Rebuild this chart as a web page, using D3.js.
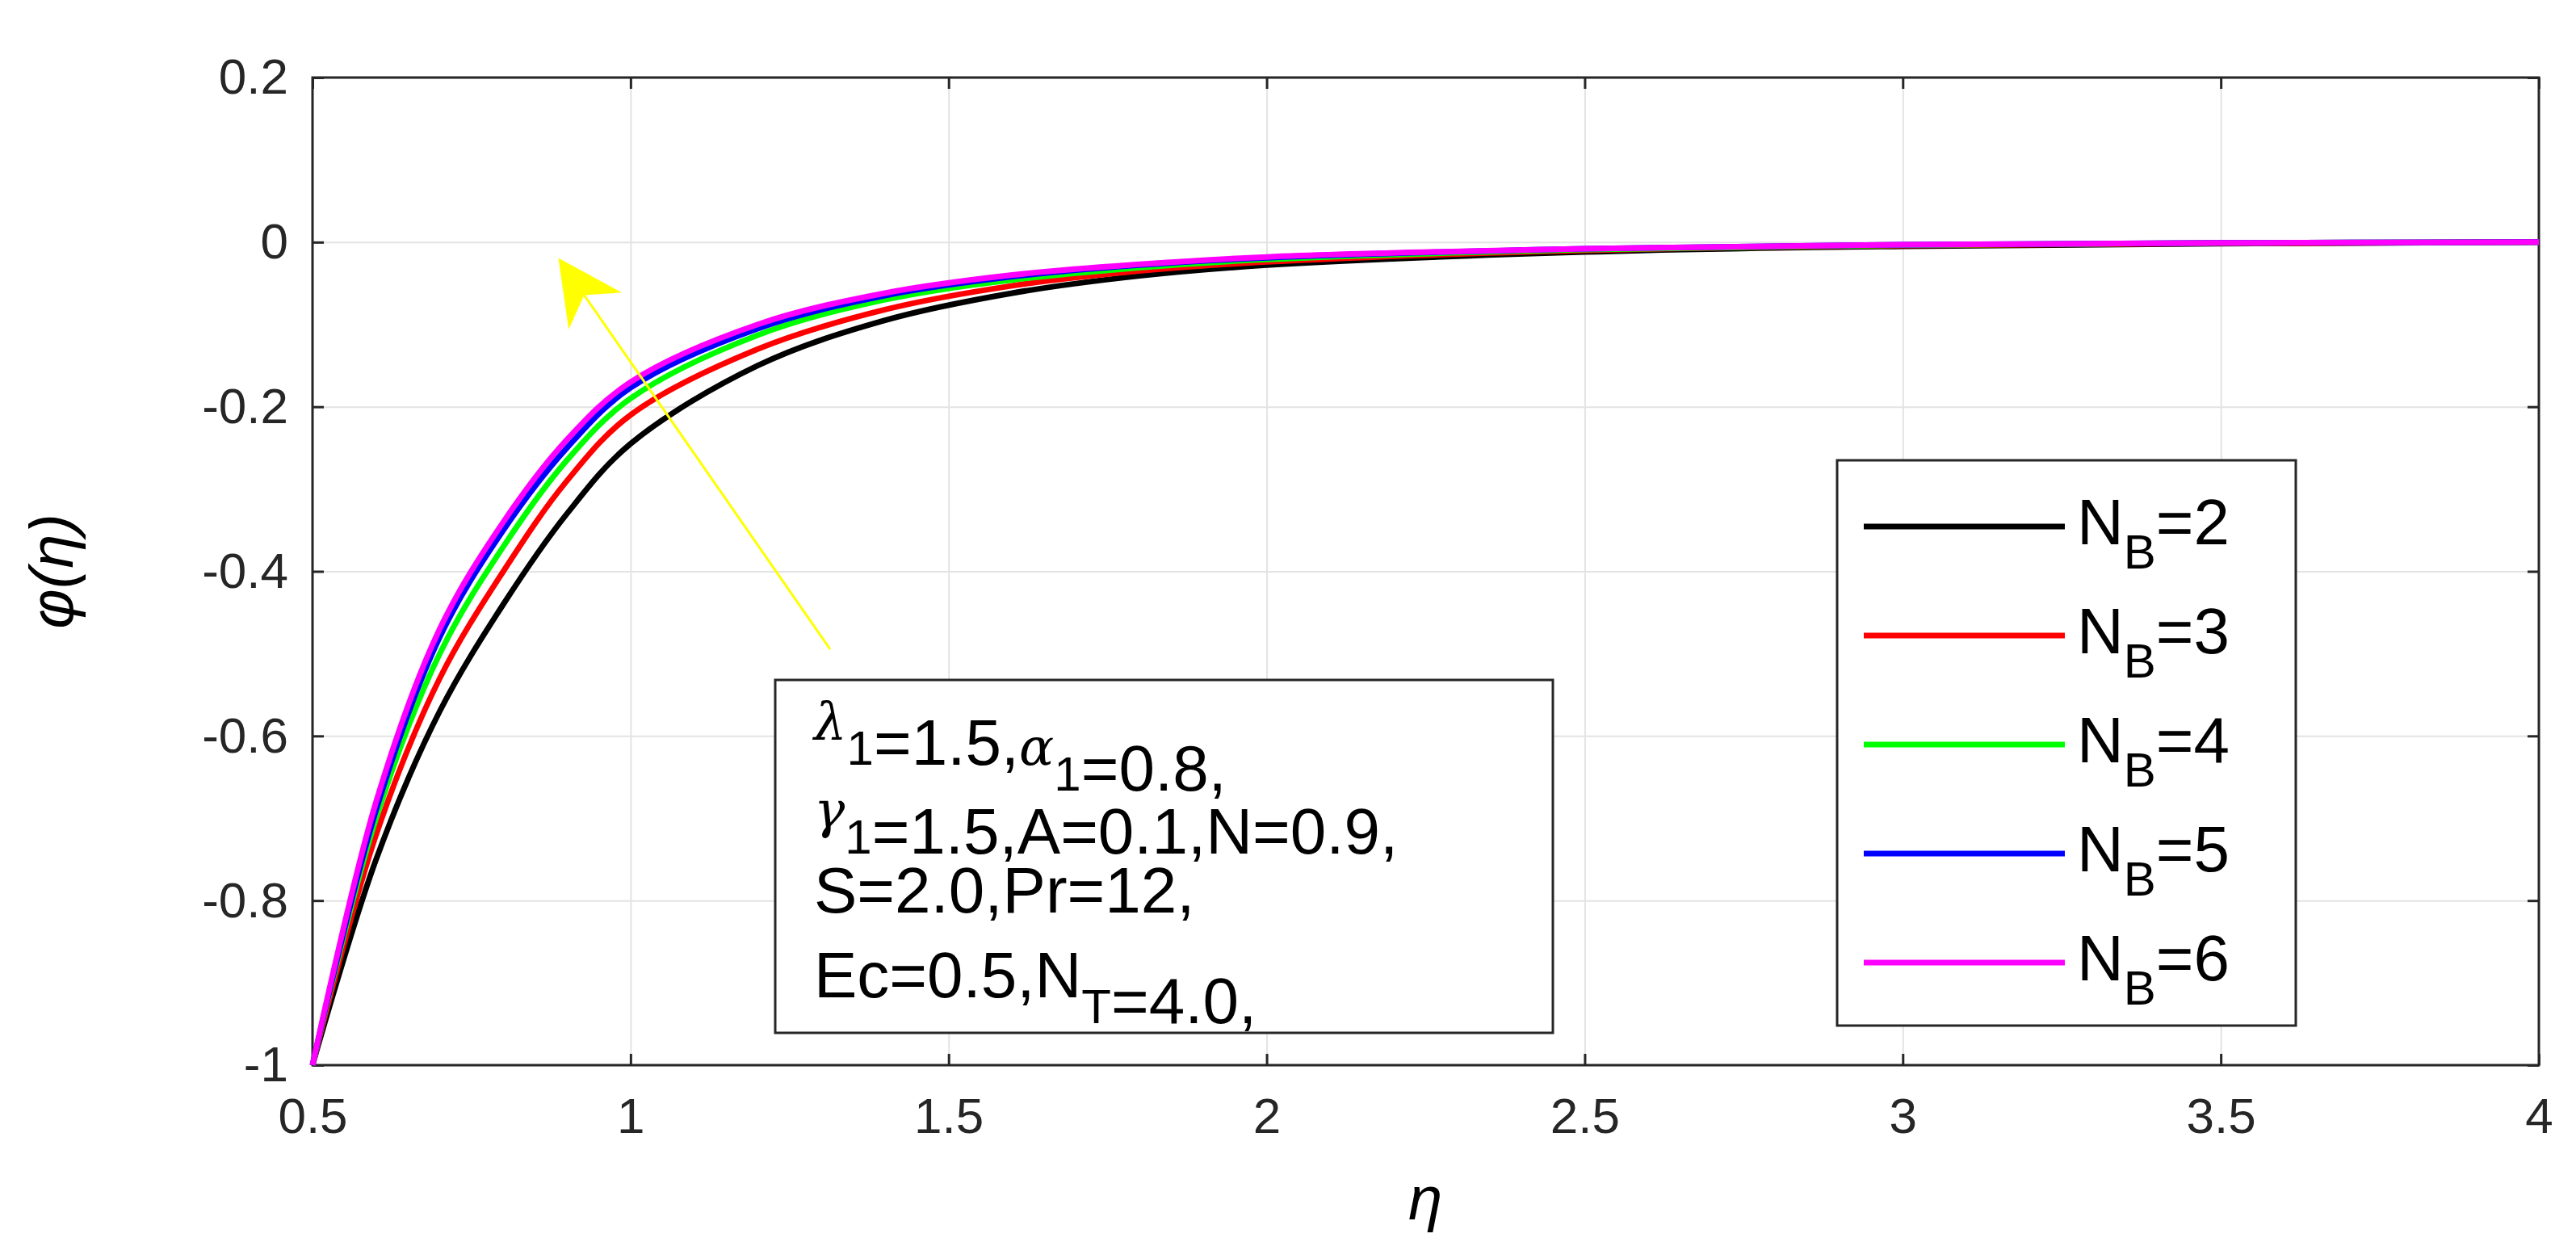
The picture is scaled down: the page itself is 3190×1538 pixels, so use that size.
<!DOCTYPE html>
<html lang="en">
<head>
<meta charset="UTF-8">
<title>phi(eta) profiles</title>
<script src="https://d3js.org/d3.v7.min.js"></script>
<style>
  body { margin: 0; background: #fff; }
  text { font-family: "Liberation Sans Narrow", "Liberation Sans", Arial, sans-serif; }
  .tick text { fill: #262626; font-size: 62px; font-family: "Liberation Sans", Arial, sans-serif; }
  .grid line { stroke: #e3e3e3; stroke-width: 2px; }
</style>
</head>
<body>
<svg width="3190" height="1538"></svg>
<script>
var eta = [0.5, 0.6, 0.7, 0.8, 0.9, 1.0, 1.2, 1.4, 1.6, 1.8, 2.0, 2.5, 3.0, 3.5, 4.0];
var nb2 = [-1, -0.75, -0.57, -0.44, -0.33, -0.245, -0.15, -0.095, -0.062, -0.041, -0.028, -0.012, -0.005, -0.002, 0];
var nb3 = [-1, -0.72, -0.53, -0.40, -0.29, -0.21, -0.13, -0.082, -0.053, -0.035, -0.024, -0.010, -0.004, -0.0015, 0];
var nb4 = [-1, -0.70, -0.50, -0.37, -0.265, -0.19, -0.113, -0.070, -0.046, -0.031, -0.021, -0.009, -0.0035, -0.001, 0];
var nb5 = [-1, -0.69, -0.48, -0.35, -0.25, -0.177, -0.105, -0.065, -0.042, -0.028, -0.019, -0.008, -0.003, -0.001, 0];
var nb6 = [-1, -0.68, -0.47, -0.34, -0.24, -0.17, -0.10, -0.062, -0.040, -0.027, -0.018, -0.008, -0.003, -0.001, 0];
var labels = ["2", "3", "4", "5", "6"];
var colors = ["#000000", "#ff0000", "#00ff00", "#0000ff", "#ff00ff"];
var xTicks = [0.5, 1, 1.5, 2, 2.5, 3, 3.5, 4];
var yTicks = [-1, -0.8, -0.6, -0.4, -0.2, 0, 0.2];
var params = [
  [["λ", "1"], ["=1.5,"], ["α", "1"], ["=0.8,"]],
  [["γ", "1"], ["=1.5,A=0.1,N=0.9,"]],
  [["S=2.0,Pr=12,"]],
  [["Ec=0.5,N"], ["", "T"], ["=4.0,"]]
];

var series = [nb2, nb3, nb4, nb5, nb6];
var L = 387, R = 3144, T = 96, B = 1319;
var svg = d3.select("svg");
var x = d3.scaleLinear().domain([0.5, 4]).range([L, R]);
var y = d3.scaleLinear().domain([-1, 0.2]).range([B, T]);

// grid
svg.append("g").attr("class", "grid").attr("transform", "translate(0," + B + ")")
  .call(d3.axisBottom(x).tickValues(xTicks).tickSize(-(B - T)).tickFormat(""))
  .call(g => g.select(".domain").remove());
svg.append("g").attr("class", "grid").attr("transform", "translate(" + L + ",0)")
  .call(d3.axisLeft(y).tickValues(yTicks).tickSize(-(R - L)).tickFormat(""))
  .call(g => g.select(".domain").remove());

// frame + axes
svg.append("rect").attr("x", L).attr("y", T).attr("width", R - L).attr("height", B - T)
  .attr("fill", "none").attr("stroke", "#262626").attr("stroke-width", 3);
var fmt = d => String(d);
svg.append("g").attr("transform", "translate(0," + B + ")")
  .call(d3.axisBottom(x).tickValues(xTicks).tickSize(-14).tickPadding(40).tickFormat(fmt));
svg.append("g").attr("transform", "translate(" + L + ",0)")
  .call(d3.axisLeft(y).tickValues(yTicks).tickSize(-14).tickPadding(30).tickFormat(fmt));
svg.append("g").attr("transform", "translate(0," + T + ")")
  .call(d3.axisTop(x).tickValues(xTicks).tickSize(-14).tickFormat(""));
svg.append("g").attr("transform", "translate(" + R + ",0)")
  .call(d3.axisRight(y).tickValues(yTicks).tickSize(-14).tickFormat(""));
svg.selectAll(".domain").remove();
svg.selectAll(".tick line").filter(function () { return !this.parentNode.parentNode.classList.contains("grid"); })
  .attr("stroke", "#262626").attr("stroke-width", 3);

// curves
var line = d3.line().x(d => x(d[0])).y(d => y(d[1])).curve(d3.curveCatmullRom.alpha(0.5));
series.forEach(function (s, i) {
  svg.append("path").datum(eta.map((e, j) => [e, s[j]]))
    .attr("d", line).attr("fill", "none").attr("stroke", colors[i]).attr("stroke-width", 7);
});

// arrow
svg.append("defs").append("marker").attr("id", "ah").attr("viewBox", "0 0 10 10")
  .attr("refX", 9).attr("refY", 5).attr("markerWidth", 80).attr("markerHeight", 80)
  .attr("markerUnits", "userSpaceOnUse").attr("orient", "auto")
  .append("path").attr("d", "M0,0 L10,5 L0,10 L3,5 Z").attr("fill", "#ffff00");
svg.append("line").attr("x1", 1028).attr("y1", 804).attr("x2", 696).attr("y2", 326)
  .attr("stroke", "#ffff00").attr("stroke-width", 3).attr("marker-end", "url(#ah)");

// parameter box
svg.append("rect").attr("x", 960).attr("y", 842).attr("width", 963).attr("height", 437)
  .attr("fill", "#fff").attr("stroke", "#262626").attr("stroke-width", 3);
var baselines = [935, 1045, 1150, 1255];
params.forEach(function (row, i) {
  var t = svg.append("text").attr("x", 1008).attr("y", baselines[i] - 20).attr("font-size", 80).attr("fill", "#000");
  row.forEach(function (p) {
    var greek = /[λαγ]/.test(p[0]);
    if (p[0]) t.append("tspan").text(p[0])
      .attr("font-style", greek ? "italic" : null)
      .attr("font-family", greek ? "DejaVu Serif" : null)
      .attr("font-size", greek ? 64 : null);
    if (p[1]) {
      t.append("tspan").attr("dy", 32).attr("font-size", 60).text(p[1]);
      t.append("tspan").attr("dy", -32).text("");
    }
  });
});

// legend
svg.append("rect").attr("x", 2275).attr("y", 570).attr("width", 568).attr("height", 700)
  .attr("fill", "#fff").attr("stroke", "#262626").attr("stroke-width", 3);
labels.forEach(function (lb, i) {
  var yy = 652 + i * 135;
  svg.append("line").attr("x1", 2308).attr("x2", 2557).attr("y1", yy).attr("y2", yy)
    .attr("stroke", colors[i]).attr("stroke-width", 7);
  var t = svg.append("text").attr("x", 2572).attr("y", yy + 22).attr("font-size", 80).attr("fill", "#000");
  t.append("tspan").text("N");
  t.append("tspan").attr("dy", 30).attr("font-size", 60).text("B");
  t.append("tspan").attr("dy", -30).text("=" + lb);
});

// axis labels
svg.append("text").attr("x", 1765).attr("y", 1510).attr("text-anchor", "middle")
  .attr("font-family", "DejaVu Serif").attr("font-style", "italic").attr("font-size", 76).text("η");
svg.append("text").attr("transform", "translate(90," + ((T + B) / 2) + ") rotate(-90)")
  .attr("text-anchor", "middle").attr("font-family", "DejaVu Serif").attr("font-style", "italic")
  .attr("font-size", 76).text("φ(η)");
</script>
</body>
</html>
